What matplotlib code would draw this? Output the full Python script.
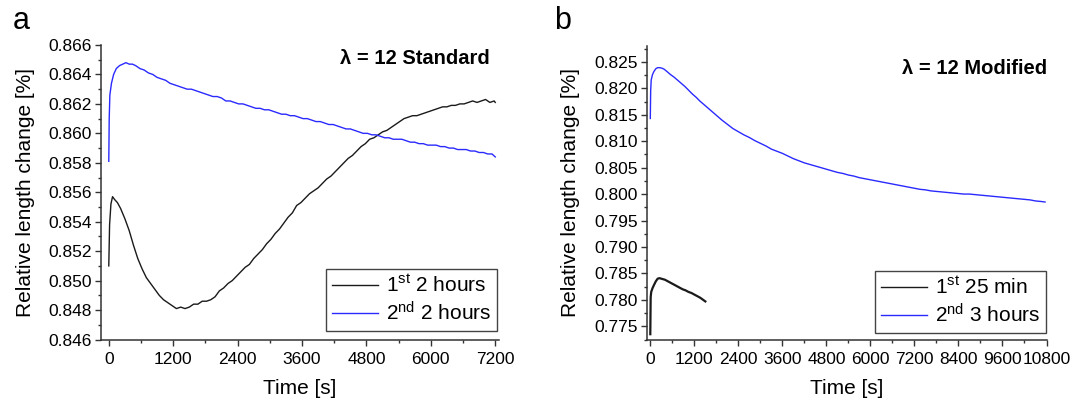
import matplotlib
matplotlib.use("Agg")
import matplotlib.pyplot as plt
from matplotlib.ticker import MultipleLocator, FormatStrFormatter
from matplotlib.lines import Line2D

plt.rcParams['font.family'] = ['Liberation Sans', 'DejaVu Sans']
plt.rcParams['mathtext.default'] = 'regular'

# ---- Panel a: lambda = 12 Standard ----
a_t1 = [0, 15, 40, 70, 110, 160, 220, 300, 380, 460, 540, 620, 700, 780, 860, 940,
        1020, 1100, 1180, 1260, 1340, 1420, 1500, 1580, 1660, 1740, 1820, 1900, 1980,
        2060, 2140, 2220, 2300, 2380, 2460, 2540, 2620, 2700, 2780, 2860, 2940, 3020,
        3100, 3180, 3260, 3340, 3420, 3500, 3580, 3660, 3740, 3820, 3900, 3980, 4060,
        4140, 4220, 4300, 4380, 4460, 4540, 4620, 4700, 4780, 4860, 4940, 5020, 5100,
        5180, 5260, 5340, 5420, 5500, 5580, 5660, 5740, 5820, 5900, 5980, 6060, 6140,
        6220, 6300, 6380, 6460, 6540, 6620, 6700, 6780, 6860, 6940, 7020, 7100, 7180, 7200]
a_v1 = [0.8510, 0.8538, 0.8552, 0.8557, 0.8555, 0.8553, 0.8549, 0.8542, 0.8534, 0.8524,
        0.8515, 0.8508, 0.8502, 0.8498, 0.8494, 0.8490, 0.8487, 0.8485, 0.8483, 0.8481,
        0.8482, 0.8481, 0.8482, 0.8484, 0.8484, 0.8486, 0.8486, 0.8487, 0.8489, 0.8493,
        0.8495, 0.8498, 0.8500, 0.8503, 0.8506, 0.8509, 0.8511, 0.8515, 0.8518, 0.8521,
        0.8525, 0.8528, 0.8532, 0.8535, 0.8539, 0.8543, 0.8546, 0.8551, 0.8553, 0.8556,
        0.8559, 0.8561, 0.8563, 0.8566, 0.8569, 0.8571, 0.8574, 0.8577, 0.8580, 0.8583,
        0.8585, 0.8588, 0.8591, 0.8593, 0.8596, 0.8597, 0.8599, 0.8601, 0.8602, 0.8604,
        0.8606, 0.8608, 0.8610, 0.8611, 0.8612, 0.8612, 0.8613, 0.8614, 0.8615, 0.8616,
        0.8617, 0.8618, 0.8618, 0.8619, 0.8619, 0.8620, 0.8620, 0.8621, 0.8622, 0.8621,
        0.8622, 0.8623, 0.8621, 0.8622, 0.8621]

a_t2 = [0, 8, 20, 50, 90, 140, 200, 260, 320, 380, 440, 500, 580, 660, 740, 820, 900,
        980, 1060, 1140, 1220, 1300, 1380, 1460, 1540, 1620, 1700, 1780, 1860, 1940,
        2020, 2100, 2180, 2260, 2340, 2420, 2500, 2580, 2660, 2740, 2820, 2900, 2980,
        3060, 3140, 3220, 3300, 3380, 3460, 3540, 3620, 3700, 3780, 3860, 3940, 4020,
        4100, 4180, 4260, 4340, 4420, 4500, 4580, 4660, 4740, 4820, 4900, 4980, 5060,
        5140, 5220, 5300, 5380, 5460, 5540, 5620, 5700, 5780, 5860, 5940, 6020, 6100,
        6180, 6260, 6340, 6420, 6500, 6580, 6660, 6740, 6820, 6900, 6980, 7060, 7140, 7200]
a_v2 = [0.8581, 0.8610, 0.8626, 0.8634, 0.8640, 0.8644, 0.8646, 0.8647, 0.8648, 0.8647,
        0.8647, 0.8646, 0.8644, 0.8643, 0.8641, 0.8640, 0.8638, 0.8637, 0.8636, 0.8634,
        0.8633, 0.8632, 0.8631, 0.8630, 0.8630, 0.8629, 0.8628, 0.8627, 0.8626, 0.8625,
        0.8625, 0.8624, 0.8622, 0.8622, 0.8621, 0.8620, 0.8620, 0.8619, 0.8618, 0.8617,
        0.8617, 0.8616, 0.8616, 0.8615, 0.8614, 0.8613, 0.8613, 0.8612, 0.8612, 0.8611,
        0.8610, 0.8610, 0.8609, 0.8608, 0.8608, 0.8607, 0.8606, 0.8606, 0.8605, 0.8604,
        0.8603, 0.8603, 0.8602, 0.8601, 0.8600, 0.8600, 0.8599, 0.8599, 0.8598, 0.8597,
        0.8597, 0.8596, 0.8596, 0.8596, 0.8595, 0.8594, 0.8594, 0.8593, 0.8593, 0.8592,
        0.8592, 0.8592, 0.8591, 0.8591, 0.8590, 0.8590, 0.8589, 0.8589, 0.8589, 0.8588,
        0.8588, 0.8587, 0.8587, 0.8586, 0.8586, 0.8584]

# ---- Panel b: lambda = 12 Modified ----
b_t1 = [0, 10, 25, 60, 100, 150, 200, 250, 300, 350, 400, 480, 560, 640, 720, 800,
        880, 960, 1040, 1120, 1200, 1280, 1360, 1440, 1500]
b_v1 = [0.7735, 0.7805, 0.7815, 0.7822, 0.7828, 0.7835, 0.7840, 0.7841, 0.7840, 0.7839,
        0.7838, 0.7835, 0.7832, 0.7829, 0.7826, 0.7823, 0.7820, 0.7818, 0.7815, 0.7813,
        0.7810, 0.7807, 0.7804, 0.7800, 0.7797]

b_t2 = [0, 10, 25, 60, 100, 150, 200, 260, 320, 380, 450, 550, 650, 750, 850, 950,
        1050, 1150, 1250, 1350, 1450, 1550, 1650, 1750, 1850, 1950, 2100, 2250, 2400,
        2550, 2700, 2850, 3000, 3150, 3300, 3450, 3600, 3750, 3900, 4050, 4200, 4350,
        4500, 4650, 4800, 4950, 5100, 5250, 5400, 5550, 5700, 5850, 6000, 6150, 6300,
        6450, 6600, 6750, 6900, 7050, 7200, 7350, 7500, 7650, 7800, 7950, 8100, 8250,
        8400, 8550, 8700, 8850, 9000, 9150, 9300, 9450, 9600, 9750, 9900, 10050, 10200,
        10350, 10500, 10650, 10760]
b_v2 = [0.8143, 0.8195, 0.8216, 0.8226, 0.8232, 0.8237, 0.8239, 0.8239, 0.8238, 0.8236,
        0.8232, 0.8226, 0.8221, 0.8215, 0.8209, 0.8203, 0.8196, 0.8189, 0.8183, 0.8176,
        0.8170, 0.8164, 0.8158, 0.8152, 0.8146, 0.8140, 0.8132, 0.8124, 0.8118, 0.8112,
        0.8107, 0.8101, 0.8096, 0.8091, 0.8085, 0.8081, 0.8077, 0.8072, 0.8067, 0.8063,
        0.8059, 0.8056, 0.8053, 0.8050, 0.8047, 0.8044, 0.8041, 0.8039, 0.8036, 0.8034,
        0.8031, 0.8029, 0.8027, 0.8025, 0.8023, 0.8021, 0.8019, 0.8017, 0.8015, 0.8013,
        0.8011, 0.8009, 0.8008, 0.8006, 0.8005, 0.8004, 0.8003, 0.8002, 0.8001, 0.8000,
        0.8000, 0.7999, 0.7998, 0.7997, 0.7996, 0.7995, 0.7994, 0.7993, 0.7992, 0.7991,
        0.7990, 0.7989, 0.7987, 0.7986, 0.7985]

a_labels = ["1$^{st}$ 2 hours", "2$^{nd}$ 2 hours"]
b_labels = ["1$^{st}$ 25 min", "2$^{nd}$ 3 hours"]
a_title = "λ = 12 Standard"
b_title = "λ = 12 Modified"

BLACK = "#1a1a1a"
BLUE = "#2a2aff"
SPINE = "#333333"

fig = plt.figure(figsize=(10.72, 4.05), dpi=100)
W, H = 1072, 405


def px_axes(x0, y0, x1, y1):
    return fig.add_axes([x0 / W, 1 - y1 / H, (x1 - x0) / W, (y1 - y0) / H])


def style(ax, xmajor, xminor, ymajor, yminor):
    for s in ("top", "right"):
        ax.spines[s].set_visible(False)
    for s in ("left", "bottom"):
        ax.spines[s].set_color(SPINE)
        ax.spines[s].set_linewidth(1.1)
    ax.xaxis.set_major_locator(MultipleLocator(xmajor))
    ax.xaxis.set_minor_locator(MultipleLocator(xminor))
    ax.yaxis.set_major_locator(MultipleLocator(ymajor))
    ax.yaxis.set_minor_locator(MultipleLocator(yminor))
    ax.yaxis.set_major_formatter(FormatStrFormatter("%.3f"))
    ax.tick_params(which="major", direction="out", length=4, width=1.0,
                   color=SPINE, labelsize=12.5)
    ax.tick_params(which="minor", direction="out", length=2.5, width=1.0, color=SPINE)
    ax.tick_params(axis="x", which="major", pad=5)
    ax.tick_params(axis="y", which="major", pad=2.5)
    ax.set_xlabel("Time [s]", fontsize=15, labelpad=9)
    ax.set_ylabel("Relative length change [%]", fontsize=15, labelpad=10)


def legend(ax, labels, x1, y1):
    # thin sample lines for the key, independent of the plotted widths
    handles = [Line2D([], [], color=BLACK, lw=1.0), Line2D([], [], color=BLUE, lw=1.0)]
    leg = ax.legend(handles, labels, loc="lower right",
                    bbox_to_anchor=(x1 / W, 1 - y1 / H), bbox_transform=fig.transFigure,
                    borderaxespad=0, fontsize=15, frameon=True, fancybox=False,
                    framealpha=1, edgecolor="#444444", handlelength=2.2,
                    handletextpad=0.35, labelspacing=0.25, borderpad=0.3)
    leg.get_frame().set_linewidth(1.0)


# Panel a
ax1 = px_axes(101, 45, 499, 339.5)
ax1.plot(a_t1, a_v1, color=BLACK, lw=1.0)
ax1.plot(a_t2, a_v2, color=BLUE, lw=1.0)
ax1.set_xlim(-145, 7270)
ax1.set_ylim(0.846, 0.866)
style(ax1, 1200, 600, 0.002, 0.001)
legend(ax1, a_labels, 497, 331)

# Panel b
ax2 = px_axes(647, 46, 1046.5, 339.5)
ax2.plot(b_t1, b_v1, color=BLACK, lw=1.6)
ax2.plot(b_t2, b_v2, color=BLUE, lw=1.0)
ax2.set_xlim(-90, 10800)
ax2.set_ylim(0.7725, 0.8280)
style(ax2, 1200, 600, 0.005, 0.0025)
legend(ax2, b_labels, 1046, 333)

# panel letters and condition captions
fig.text(13 / W, 1 - 29 / H, "a", fontsize=22, ha="left", va="baseline")
fig.text(554 / W, 1 - 29 / H, "b", fontsize=22, ha="left", va="baseline")
fig.text(490 / W, 1 - 59 / H, a_title, fontsize=14.5, fontweight="bold",
         ha="right", va="center")
fig.text(1047 / W, 1 - 68 / H, b_title, fontsize=14.5, fontweight="bold",
         ha="right", va="center")

fig.savefig("out.png", dpi=100)
